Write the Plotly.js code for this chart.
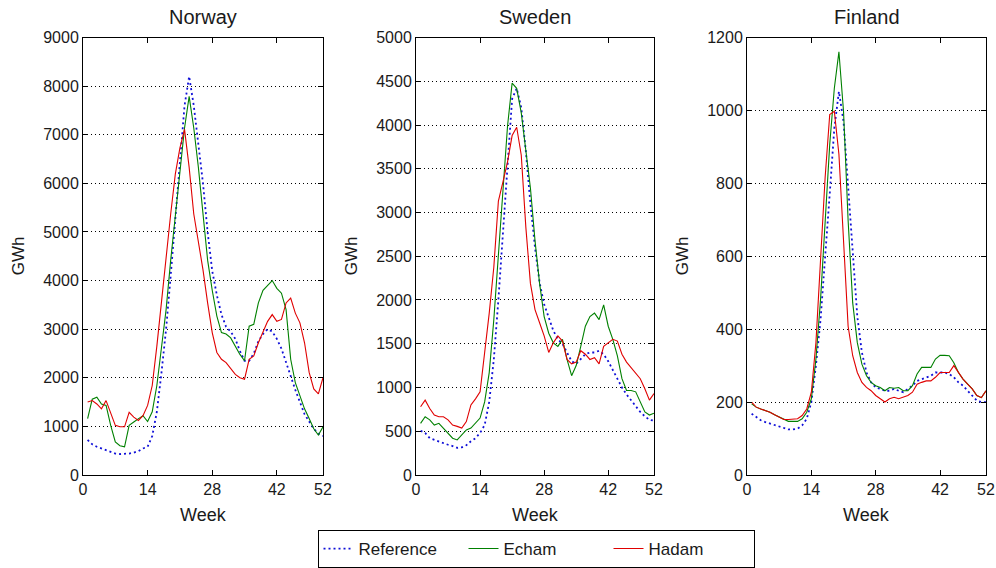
<!DOCTYPE html>
<html>
<head>
<meta charset="utf-8">
<script src="https://cdn.plot.ly/plotly-3.0.1.min.js"></script>
<style>
  html, body { margin: 0; padding: 0; background: #fff; }
  #chart { width: 996px; height: 568px; }
</style>
</head>
<body>
<div id="chart"></div>
<script>
// Weekly inflow energy (GWh) for the three Nordic countries
const weeks = [1,2,3,4,5,6,7,8,9,10,11,12,13,14,15,16,17,18,19,20,21,22,23,24,25,26,
               27,28,29,30,31,32,33,34,35,36,37,38,39,40,41,42,43,44,45,46,47,48,49,50,51,52];
const weekTicks = [0, 14, 28, 42, 52];

const norwayReference = [720,630,580,545,510,475,440,430,430,440,460,490,545,580,800,1300,2100,3000,4100,5300,
  6500,7600,8200,7600,6800,6000,5000,4200,3700,3300,3050,2950,2800,2550,2350,2350,2500,2750,2900,3000,
  2950,2800,2600,2300,2000,1750,1500,1250,1100,950,850,800];
const norwayEcham = [1160,1560,1600,1460,1430,1020,680,600,580,1020,1090,1160,1220,1100,1300,1840,2650,3400,4420,5370,
  6330,7140,7790,7140,6330,5370,4420,3800,3270,2930,2900,2820,2650,2480,2350,3060,3100,3540,3800,3900,
  4000,3840,3740,3400,2380,1900,1630,1360,1160,950,820,990];
const norwayHadam = [1500,1530,1460,1360,1530,1260,1020,990,990,1290,1190,1120,1220,1430,1840,2650,3540,4560,5370,6190,
  6730,7110,6330,5370,4830,4220,3540,2930,2520,2380,2310,2180,2070,2000,1970,2380,2450,2720,2960,3160,
  3300,3160,3200,3540,3640,3330,3130,2720,2110,1770,1670,2000];

const swedenReference = [505,480,420,400,385,365,345,330,310,315,340,385,420,480,570,835,1320,2000,2750,3580,
  4300,4420,4200,3700,3100,2600,2200,1950,1800,1650,1550,1500,1400,1300,1270,1330,1380,1400,1400,1420,
  1380,1300,1200,1100,1000,920,850,780,720,670,630,620];
const swedenEcham = [590,665,630,570,590,535,480,420,400,460,515,535,590,650,835,1170,1775,2525,3350,3990,
  4480,4420,4140,3690,3280,2680,2190,1810,1620,1510,1470,1550,1320,1135,1250,1470,1700,1810,1850,1775,
  1945,1700,1550,1360,1100,965,965,950,835,720,685,705];
const swedenHadam = [780,855,760,685,665,665,630,570,555,535,610,800,870,950,1400,1850,2375,3130,3350,3580,
  3880,3975,3655,2830,2190,1890,1740,1590,1400,1510,1590,1530,1320,1270,1290,1420,1380,1320,1340,1270,
  1470,1510,1550,1530,1380,1290,1230,1170,1100,985,855,930];

const finlandReference = [168,159,150,145,141,136,132,127,125,125,127,136,154,200,300,426,590,771,952,1052,
  970,789,590,435,336,281,254,240,236,231,231,236,231,227,236,245,258,263,268,272,
  281,281,281,277,268,254,245,231,218,204,200,200];
const finlandEcham = [195,186,181,177,172,165,159,152,147,147,147,154,172,209,318,481,680,907,1061,1161,
  998,698,472,363,304,272,254,245,240,231,240,238,240,231,231,245,277,295,295,295,
  318,328,328,327,308,281,263,249,236,218,212,231];
const finlandHadam = [200,186,181,177,172,165,159,152,152,154,154,163,181,227,363,590,816,989,998,880,
  635,408,327,281,254,240,231,218,209,200,209,213,209,213,218,227,249,254,258,258,
  268,281,281,281,300,281,263,249,236,218,212,231];

const countries = ['Norway', 'Sweden', 'Finland'];
const yMax = [9000, 5000, 1200];
const yStep = [1000, 500, 200];
const seriesNames = ['Reference', 'Echam', 'Hadam'];
const seriesData = [
  [norwayReference, norwayEcham, norwayHadam],
  [swedenReference, swedenEcham, swedenHadam],
  [finlandReference, finlandEcham, finlandHadam]
];

// Styling
const W = 996, H = 568;
const FONT = 'Liberation Sans, Arial, sans-serif';
const TXT = '#1a1a1a';
const lineStyles = [
  {color: '#1010d8', width: 1.8, dash: '2px,3px'},
  {color: '#008000', width: 1.1, dash: 'solid'},
  {color: '#e00000', width: 1.1, dash: 'solid'}
];
// panel pixel boxes [left, right], shared top/bottom
const panelX = [[83, 323], [416, 654], [747, 986]];
const panelTop = 38, panelBottom = 480;

const traces = [];
const layout = {
  width: W, height: H,
  margin: {l: 0, r: 0, t: 0, b: 0},
  paper_bgcolor: '#fff', plot_bgcolor: '#fff',
  font: {family: FONT, size: 16, color: TXT},
  showlegend: true,
  legend: {
    orientation: 'h', x: 536 / W, xanchor: 'center', y: 1 - 536 / H, yanchor: 'top',
    bordercolor: '#000', borderwidth: 1, bgcolor: '#fff',
    font: {family: FONT, size: 17, color: TXT},
    traceorder: 'normal', itemwidth: 30,
    entrywidth: 100, entrywidthmode: 'pixels'
  },
  annotations: []
};

countries.forEach((name, i) => {
  const xa = i === 0 ? 'x' : 'x' + (i + 1);
  const ya = i === 0 ? 'y' : 'y' + (i + 1);
  const xKey = i === 0 ? 'xaxis' : 'xaxis' + (i + 1);
  const yKey = i === 0 ? 'yaxis' : 'yaxis' + (i + 1);
  const [l, r] = panelX[i];

  seriesData[i].forEach((vals, k) => {
    traces.push({
      type: 'scatter', mode: 'lines', x: weeks, y: vals,
      xaxis: xa, yaxis: ya, name: seriesNames[k],
      legendgroup: seriesNames[k], showlegend: i === 0,
      line: lineStyles[k], hoverinfo: 'skip'
    });
  });

  const yTicks = [];
  for (let v = 0; v <= yMax[i]; v += yStep[i]) yTicks.push(v);

  layout[xKey] = {
    domain: [l / W, r / W], anchor: ya, range: [0, 52],
    tickvals: weekTicks, ticks: 'inside', ticklen: 5, tickcolor: '#000',
    showline: true, linecolor: '#000', linewidth: 1, mirror: 'ticks',
    showgrid: false, zeroline: false, fixedrange: true,
    tickfont: {family: FONT, size: 16, color: TXT}
  };
  layout[yKey] = {
    domain: [1 - panelBottom / H, 1 - panelTop / H], anchor: xa, range: [0, yMax[i]],
    tickvals: yTicks, ticks: 'inside', ticklen: 5, tickcolor: '#000',
    showline: true, linecolor: '#000', linewidth: 1, mirror: 'ticks',
    showgrid: true, gridcolor: '#000', gridwidth: 1, griddash: '1px,3px',
    zeroline: false, fixedrange: true,
    tickfont: {family: FONT, size: 16, color: TXT}
  };

  const cx = (l + r) / 2 / W;
  layout.annotations.push(
    {text: name, xref: 'paper', yref: 'paper', x: cx, y: 1 - 17 / H,
     xanchor: 'center', yanchor: 'middle', showarrow: false,
     font: {family: FONT, size: 20, color: TXT}},
    {text: 'Week', xref: 'paper', yref: 'paper', x: cx, y: 1 - 521 / H,
     xanchor: 'center', yanchor: 'middle', showarrow: false,
     font: {family: FONT, size: 18, color: TXT}},
    {text: 'GWh', xref: 'paper', yref: 'paper', x: (l - 65) / W, y: 1 - (panelTop + panelBottom) / 2 / H,
     xanchor: 'center', yanchor: 'middle', textangle: -90, showarrow: false,
     font: {family: FONT, size: 17, color: TXT}}
  );
});

Plotly.newPlot('chart', traces, layout, {staticPlot: true, displayModeBar: false});
</script>
</body>
</html>
